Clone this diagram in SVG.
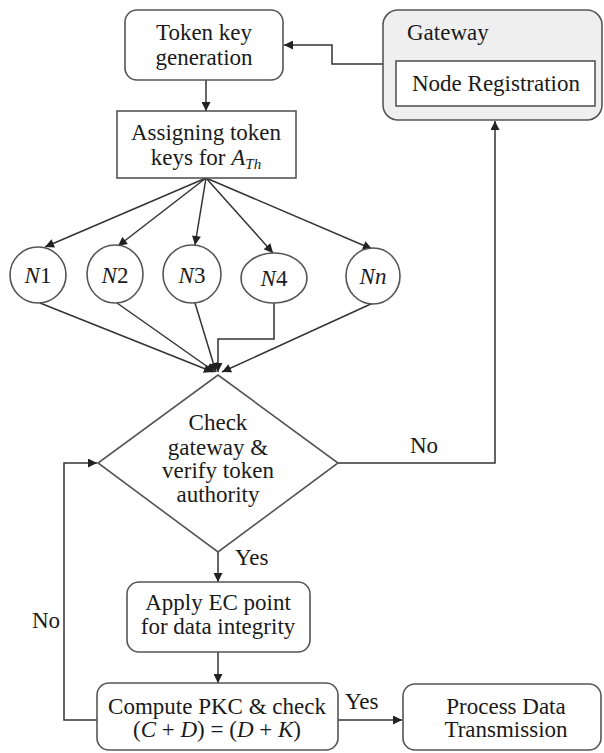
<svg xmlns="http://www.w3.org/2000/svg" width="604" height="753" viewBox="0 0 604 753">
<defs>
<style>
.box{fill:#fff;stroke:#555;stroke-width:1.6}
.gw{fill:#efefef;stroke:#555;stroke-width:1.6}
.ln{fill:none;stroke:#333;stroke-width:1.5}
.t{font-family:'Liberation Serif','Tinos','Times New Roman','Times','Nimbus Roman','Nimbus Roman No9 L','FreeSerif','Noto Serif','DejaVu Serif',serif;font-size:23px;fill:#1a1a1a}
.c{text-anchor:middle}
.i{font-style:italic}
</style>
<marker id="ah" viewBox="0 0 10 10" refX="10" refY="5" markerWidth="11" markerHeight="9" markerUnits="userSpaceOnUse" orient="auto">
<path d="M0,0 L10,5 L0,10 z" fill="#222"/>
</marker>
</defs>
<rect width="604" height="753" fill="#fff"/>
<g class="t">
<g id="connectors">
<path class="ln" d="M383,64 H332 V45 H284" marker-end="url(#ah)"/>
<path class="ln" d="M206,80 V111" marker-end="url(#ah)"/>
<path class="ln" d="M206,178 L45,247" marker-end="url(#ah)"/>
<path class="ln" d="M206,178 L118,246" marker-end="url(#ah)"/>
<path class="ln" d="M206,178 L195,245" marker-end="url(#ah)"/>
<path class="ln" d="M206,178 L273,253" marker-end="url(#ah)"/>
<path class="ln" d="M206,178 L372,249" marker-end="url(#ah)"/>
<path class="ln" d="M40,303 L213,372" marker-end="url(#ah)"/>
<path class="ln" d="M117,303 L215,372" marker-end="url(#ah)"/>
<path class="ln" d="M195,303 L216,372" marker-end="url(#ah)"/>
<path class="ln" d="M274,303 V339 H218 V372" marker-end="url(#ah)"/>
<path class="ln" d="M373,303 L222,372" marker-end="url(#ah)"/>
<path class="ln" d="M338,463 H495 V121" marker-end="url(#ah)"/>
<path class="ln" d="M218,552 V582" marker-end="url(#ah)"/>
<path class="ln" d="M218,652 V683" marker-end="url(#ah)"/>
<path class="ln" d="M97,720 H64 V463 H97" marker-end="url(#ah)"/>
<path class="ln" d="M338,720 H402" marker-end="url(#ah)"/>
<text x="410" y="453">No</text>
<text x="235" y="565">Yes</text>
<text x="32" y="628">No</text>
<text x="345" y="709">Yes</text>
</g>

<g id="token-key-generation">
<rect class="box" x="125" y="10" width="158" height="70" rx="12"/>
<text class="c" x="204" y="40">Token key</text>
<text class="c" x="204" y="65">generation</text>
</g>

<g id="gateway">
<rect class="gw" x="383" y="10" width="219" height="110" rx="15"/>
<text x="407" y="40">Gateway</text>
<g id="node-registration">
<rect class="box" x="396" y="61" width="199" height="45"/>
<text x="412" y="91">Node Registration</text>
</g>
</g>

<g id="assigning-token-keys">
<rect class="box" x="117" y="111" width="179" height="67"/>
<text class="c" x="206" y="140">Assigning token</text>
<text class="c" x="206" y="165">keys for <tspan class="i">A</tspan><tspan class="i" font-size="15" dy="4">Th</tspan></text>
</g>

<g id="node-n1">
<ellipse class="box" cx="38" cy="275" rx="28" ry="28"/>
<text class="c" x="38" y="283"><tspan class="i">N</tspan>1</text>
</g>
<g id="node-n2">
<ellipse class="box" cx="115" cy="274" rx="28" ry="29"/>
<text class="c" x="115" y="283"><tspan class="i">N</tspan>2</text>
</g>
<g id="node-n3">
<ellipse class="box" cx="192" cy="274" rx="29" ry="29"/>
<text class="c" x="192" y="283"><tspan class="i">N</tspan>3</text>
</g>
<g id="node-n4">
<ellipse class="box" cx="274" cy="278" rx="33" ry="25"/>
<text class="c" x="274" y="286"><tspan class="i">N</tspan>4</text>
</g>
<g id="node-nn">
<ellipse class="box" cx="373" cy="276" rx="27" ry="28"/>
<text class="c i" x="373" y="284">Nn</text>
</g>

<g id="check-gateway">
<polygon class="box" points="218,375 338,463 218,552 98,463"/>
<text class="c" x="218" y="430">Check</text>
<text class="c" x="218" y="455">gateway &amp;</text>
<text class="c" x="218" y="478">verify token</text>
<text class="c" x="218" y="502">authority</text>
</g>

<g id="apply-ec-point">
<rect class="box" x="127" y="582" width="183" height="70" rx="12"/>
<text class="c" x="218" y="610">Apply EC point</text>
<text class="c" x="218" y="634">for data integrity</text>
</g>

<g id="compute-pkc">
<rect class="box" x="97" y="683" width="241" height="67" rx="12"/>
<text class="c" x="217" y="714">Compute PKC &amp; check</text>
<text class="c" x="217" y="737">(<tspan class="i">C</tspan> + <tspan class="i">D</tspan>) = (<tspan class="i">D</tspan> + <tspan class="i">K</tspan>)</text>
</g>

<g id="process-data-transmission">
<rect class="box" x="403" y="684" width="198" height="66" rx="12"/>
<text class="c" x="506" y="714">Process Data</text>
<text class="c" x="506" y="737">Transmission</text>
</g>
</g>
</svg>
